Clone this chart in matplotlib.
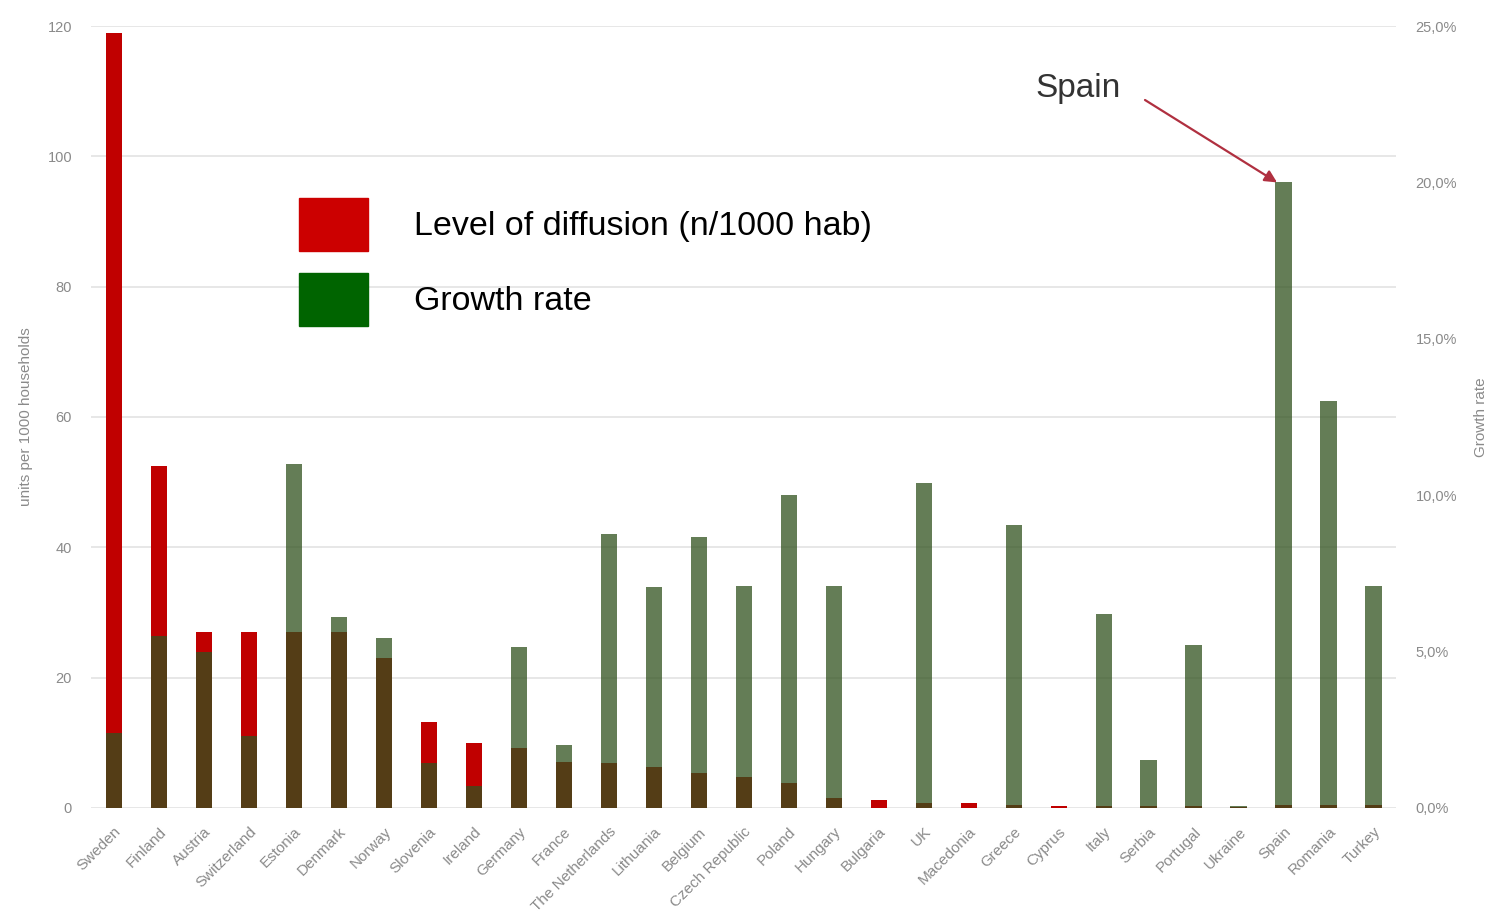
import matplotlib
matplotlib.use("Agg")
import matplotlib.pyplot as plt
from matplotlib.patches import Patch
from matplotlib.ticker import FuncFormatter

plt.rcParams['font.family'] = ['Liberation Sans', 'DejaVu Sans']

# datos
paises = ['Sweden', 'Finland', 'Austria', 'Switzerland', 'Estonia', 'Denmark',
          'Norway', 'Slovenia', 'Ireland', 'Germany', 'France', 'The Netherlands',
          'Lithuania', 'Belgium', 'Czech Republic', 'Poland', 'Hungary', 'Bulgaria',
          'UK', 'Macedonia', 'Greece', 'Cyprus', 'Italy', 'Serbia', 'Portugal',
          'Ukraine', 'Spain', 'Romania', 'Turkey']

# nivel de difusion (unidades por 1000 hogares)
nivel = [119, 52.5, 27, 27, 27, 27, 23, 13.2, 10, 9.2, 7.1, 6.9, 6.3, 5.4, 4.8,
         3.8, 1.5, 1.3, 0.8, 0.7, 0.5, 0.3, 0.3, 0.3, 0.3, 0.2, 0.5, 0.5, 0.5]

# tasa de crecimiento (%)
crecimiento = [2.4, 5.5, 5.0, 2.3, 11.0, 6.1, 5.45, 1.45, 0.7, 5.15, 2.0, 8.75,
               7.05, 8.65, 7.1, 10.0, 7.1, 0.0, 10.4, 0.0, 9.05, 0.0, 6.2, 1.55,
               5.2, 0.05, 20.0, 13.0, 7.1]

rojo = '#c00000'
verde = '#30521e'
gris = '#8a8a8a'

x = list(range(len(paises)))

fig = plt.figure(figsize=(14.87, 9.19), dpi=100)
ax = fig.add_axes([0.0615, 0.1208, 0.8775, 0.8509])
ax2 = ax.twinx()

ax.bar(x, nivel, width=0.37, color=rojo, zorder=2)
ax2.bar(x, crecimiento, width=0.37, color=verde, alpha=0.75, zorder=3)

ax.set_ylim(0, 120)
ax2.set_ylim(0, 25)
ax.set_xlim(-0.5, len(paises) - 0.5)
ax.set_yticks(range(0, 121, 20))
ax2.set_yticks(range(0, 26, 5))
ax2.yaxis.set_major_formatter(FuncFormatter(lambda v, p: ('%.1f%%' % v).replace('.', ',')))

# rejilla horizontal
ax.grid(axis='y', color='#e3e3e3', linewidth=1.2, zorder=0)
ax.set_axisbelow(True)

for a in (ax, ax2):
    for s in a.spines.values():
        s.set_visible(False)
    a.tick_params(length=0, colors=gris, labelsize=10.5)

ax.set_xticks(x)
ax.set_xticklabels(paises, rotation=45, ha='right', rotation_mode='anchor',
                   fontsize=11, color=gris)
ax.tick_params(axis='x', pad=12)
ax.tick_params(axis='y', pad=14)
ax2.tick_params(axis='y', pad=14)

ax.set_ylabel('units per 1000 households', color=gris, fontsize=11, labelpad=10)
ax2.set_ylabel('Growth rate', color=gris, fontsize=11, labelpad=12)

# leyenda
handles = [Patch(facecolor='#cc0000', edgecolor='#cc0000'),
           Patch(facecolor='#006400', edgecolor='#006400')]
ax.legend(handles, ['Level of diffusion (n/1000 hab)', 'Growth rate'],
          loc='upper left', bbox_to_anchor=(0.149, 0.798), frameon=False,
          fontsize=24.5, handlelength=2.0, handleheight=2.02,
          handletextpad=1.37, labelspacing=0.66, borderaxespad=0)

# anotacion Spain
fig.text(1035, 831, 'Spain', transform=None, fontsize=24, color='#333333',
         va='center')
ax2.annotate('', xy=(paises.index('Spain') - 0.15, 20.0),
             xytext=(1145, 819), textcoords='figure pixels',
             arrowprops=dict(arrowstyle='-|>', color='#b03040', lw=1.6,
                             mutation_scale=18, shrinkA=0, shrinkB=0))

plt.savefig('out.png', dpi=100)
